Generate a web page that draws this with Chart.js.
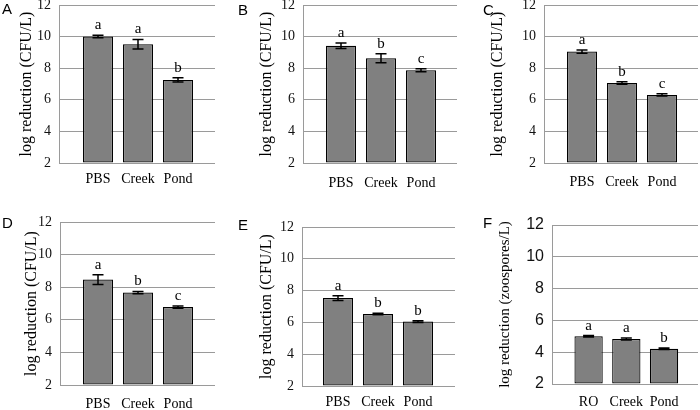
<!DOCTYPE html>
<html>
<head>
<meta charset="utf-8">
<script src="https://cdn.jsdelivr.net/npm/chart.js@4.4.1/dist/chart.umd.min.js"></script>
<style>
  html, body { margin:0; padding:0; background:#fff; overflow:hidden; }
  body { width:700px; height:410px; position:relative; }
  canvas { position:absolute; }
</style>
</head>
<body>
<script>
// ---------- Data ----------
const catsBact = ['PBS', 'Creek', 'Pond'];
const catsZoo  = ['RO', 'Creek', 'Pond'];

const meanA = [10.0, 9.52, 7.26];  const errA = [0.08, 0.30, 0.13]; const sigA = ['a', 'a', 'b'];
const meanB = [9.42, 8.63, 7.87];  const errB = [0.18, 0.28, 0.09]; const sigB = ['a', 'b', 'c'];
const meanC = [9.05, 7.07, 6.31];  const errC = [0.10, 0.08, 0.07]; const sigC = ['a', 'b', 'c'];
const meanD = [8.47, 7.67, 6.78];  const errD = [0.30, 0.07, 0.07]; const sigD = ['a', 'b', 'c'];
const meanE = [7.53, 6.53, 6.05];  const errE = [0.15, 0.05, 0.05]; const sigE = ['a', 'b', 'b'];
const meanF = [5.00, 4.83, 4.22];  const errF = [0.05, 0.07, 0.05]; const sigF = ['a', 'a', 'b'];

const yTitleCFU = 'log reduction (CFU/L)';
const yTitleZoo = 'log reduction (zoospores/L)';
const yMin = 2, yMax = 12, yStep = 2;

// ---------- Layout (page px) ----------
const SERIF = '"Liberation Serif", "Times New Roman", serif';
const SANS  = '"Liberation Sans", Arial, sans-serif';
const GRID  = '#9a9a9a';

const panels = [
  { letter:'A', cats:catsBact, means:meanA, errs:errA, sig:sigA, title:yTitleCFU, col:0,   rowBottom:205,
    area:{l:59, t:5, r:215, b:163}, xMin:-0.975, xMax:2.925, xPad:8,  titleX:27,  letterAt:[2, 14],  tickFont:{family:SERIF, size:14} },
  { letter:'B', cats:catsBact, means:meanB, errs:errB, sig:sigB, title:yTitleCFU, col:235, rowBottom:205,
    area:{l:303, t:5, r:457, b:163}, xMin:-0.95, xMax:2.9, xPad:12, titleX:267, letterAt:[238, 15], tickFont:{family:SERIF, size:14} },
  { letter:'C', cats:catsBact, means:meanC, errs:errC, sig:sigC, title:yTitleCFU, col:465, rowBottom:205,
    area:{l:544, t:5, r:698, b:163}, xMin:-0.95, xMax:2.9, xPad:11, titleX:498, letterAt:[483, 15], tickFont:{family:SERIF, size:14} },
  { letter:'D', cats:catsBact, means:meanD, errs:errD, sig:sigD, title:yTitleCFU, col:0,   rowBottom:410,
    area:{l:60, t:222, r:215, b:385}, xMin:-0.95, xMax:2.925, xPad:11, titleX:32, letterAt:[2, 228], tickFont:{family:SERIF, size:14} },
  { letter:'E', cats:catsBact, means:meanE, errs:errE, sig:sigE, title:yTitleCFU, col:235, rowBottom:410,
    area:{l:302, t:227, r:455, b:386}, xMin:-0.9, xMax:2.925, xPad:8, titleX:267, letterAt:[238, 230], tickFont:{family:SERIF, size:14} },
  { letter:'F', cats:catsZoo,  means:meanF, errs:errF, sig:sigF, title:yTitleZoo, col:465, rowBottom:410,
    area:{l:552, t:225, r:698, b:384}, xMin:-0.97, xMax:2.9, xPad:10, titleX:505, letterAt:[483, 228], tickFont:{family:SANS, size:16}, titleSize:15 },
];

// ---------- Error bars, letters, titles ----------
function decorPlugin(p, cTop){
  return {
    id: 'decor' + p.letter,
    afterDatasetsDraw(chart){
      const ctx = chart.ctx, y = chart.scales.y, bars = chart.getDatasetMeta(0).data;
      const area = chart.chartArea;
      ctx.save();
      ctx.strokeStyle = '#000'; ctx.fillStyle = '#000'; ctx.lineWidth = 1.5;
      ctx.font = '15px ' + SERIF; ctx.textAlign = 'center'; ctx.textBaseline = 'alphabetic';
      p.means.forEach((m, i) => {
        const x = bars[i].x;
        const hi = y.getPixelForValue(m + p.errs[i]);
        const lo = y.getPixelForValue(m - p.errs[i]);
        ctx.beginPath();
        ctx.moveTo(x, hi); ctx.lineTo(x, lo);
        ctx.moveTo(x - 5.5, hi); ctx.lineTo(x + 5.5, hi);
        ctx.moveTo(x - 5.5, lo); ctx.lineTo(x + 5.5, lo);
        ctx.stroke();
        ctx.fillText(p.sig[i], x, hi - 6);
      });
      // y title
      ctx.save();
      ctx.translate(p.titleX - p.col, (area.top + area.bottom) / 2);
      ctx.rotate(-Math.PI / 2);
      ctx.font = (p.titleSize || 16) + 'px ' + SERIF;
      ctx.textBaseline = 'middle';
      ctx.fillText(p.title, 0, 0);
      ctx.restore();
      // panel letter
      ctx.font = '15px ' + SANS; ctx.textAlign = 'left';
      ctx.fillText(p.letter, p.letterAt[0] - p.col, p.letterAt[1] - cTop);
      ctx.restore();
    }
  };
}

// ---------- Charts ----------
panels.forEach(p => {
  const cTop = p.area.t - 20;
  const w = p.area.r + 10 - p.col;
  const h = p.rowBottom - cTop;
  const cv = document.createElement('canvas');
  cv.width = w; cv.height = h;
  cv.style.left = p.col + 'px'; cv.style.top = cTop + 'px';
  cv.style.width = w + 'px'; cv.style.height = h + 'px';
  document.body.appendChild(cv);

  new Chart(cv, {
    type: 'bar',
    data: { datasets: [{
      data: p.means.map((v, i) => ({ x: i, y: v })),
      backgroundColor: '#808080',
      borderColor: '#000',
      borderWidth: 1.2,
      borderSkipped: false,
      base: yMin,
      barPercentage: 0.75,
      categoryPercentage: 1
    }]},
    options: {
      responsive: false,
      animation: false,
      devicePixelRatio: 1,
      layout: { padding: { left: 0, top: 20, right: 10, bottom: 0 } },
      plugins: { legend: { display: false }, tooltip: { enabled: false } },
      scales: {
        x: {
          type: 'linear', min: p.xMin, max: p.xMax, offset: false,
          grid: { display: false, drawTicks: false }, border: { display: false },
          afterBuildTicks: s => { s.ticks = p.cats.map((c, i) => ({ value: i })); },
          afterFit: s => { s.height = h - (p.area.b - cTop); },
          ticks: { autoSkip: false, maxRotation: 0, padding: p.xPad, color: '#000',
                   font: { family: SERIF, size: 14 }, callback: v => p.cats[v] }
        },
        y: {
          min: yMin, max: yMax,
          grid: { color: GRID, lineWidth: 1, drawTicks: false },
          border: { display: true, color: GRID, width: 1 },
          afterFit: s => { s.width = p.area.l - p.col; },
          ticks: { stepSize: yStep, padding: 8, color: '#111', font: p.tickFont }
        }
      }
    },
    plugins: [decorPlugin(p, cTop)]
  });
});
</script>
</body>
</html>
